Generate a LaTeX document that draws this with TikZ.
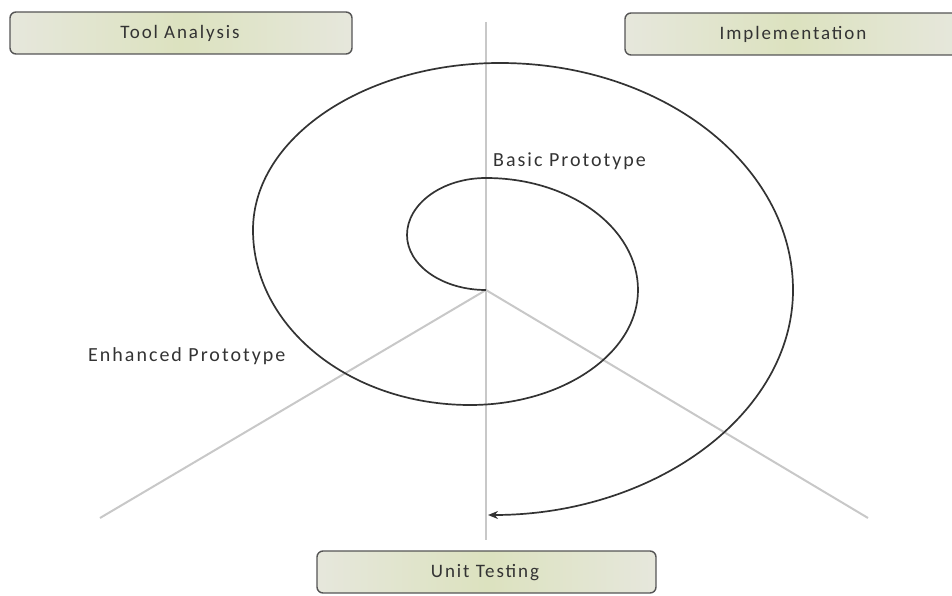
\documentclass[tikz,border=0pt]{standalone}
\usepackage{fontspec}
\setmainfont{Carlito}
\newfontfamily\lblfont[LetterSpace=10]{Carlito}
\usetikzlibrary{arrows.meta}
\definecolor{axisgrey}{HTML}{C8C8C8}
\definecolor{spiralgrey}{HTML}{333333}
\definecolor{boxedge}{HTML}{555555}
\definecolor{boxmid}{HTML}{DCE2BF}
\definecolor{boxside}{HTML}{E6E7DC}
\tikzset{
  phasebox/.style={draw=boxedge, line width=1.4pt, rounded corners=6pt,
    left color=boxside, right color=boxside, middle color=boxmid,
    inner sep=0pt, anchor=north west},
  axis/.style={draw=axisgrey, line width=2pt},
  spiral/.style={draw=spiralgrey, line width=1.7pt},
  boxtext/.style={font=\lblfont\fontsize{19}{21}\selectfont, text=black!80},
  plaintext/.style={font=\lblfont\fontsize{20}{22}\selectfont, text=black!80, anchor=west, inner sep=0pt}
}
\begin{document}
\begin{tikzpicture}[x=1pt,y=-1pt]
\useasboundingbox (0,0) rectangle (952,596);
\clip (0,0) rectangle (952,596);
% axes
\coordinate (c) at (486,290);
\coordinate (top) at (486,22);
\coordinate (bot) at (486,540);
\coordinate (ll) at (100,518);
\coordinate (lr) at (868,518);
\draw[axis] (top) -- (bot);
\draw[axis] (c) -- (ll);
\draw[axis] (c) -- (lr);
% boxes
\path[phasebox] (10,12) rectangle (352,54);
\node[boxtext] (ta) at (180,33) {Tool Analysis};
\path[phasebox] (625,13) rectangle (960,55);
\node[boxtext] (im) at (793,34) {Implementation};
\path[phasebox] (317,551) rectangle (656,593);
\node[boxtext] (ut) at (485,573) {Unit Testing};
% spiral
\coordinate (s0) at (486,290);
\coordinate (s9) at (488,515);
\draw[spiral, -{Stealth[length=10pt,width=8pt]}] (s0)
  .. controls (442,290) and (407,265) .. (407,235)
  .. controls (407,204) and (442,178) .. (486,178)
  .. controls (570,178) and (638,228) .. (638,290)
  .. controls (638,353) and (563,405) .. (470,405)
  .. controls (350,405) and (253,327) .. (253,230)
  .. controls (253,138) and (364,63) .. (500,63)
  .. controls (662,63) and (793,165) .. (793,290)
  .. controls (793,414) and (655,515) .. (s9);
% labels
\node[plaintext] (bp) at (493,161) {Basic Prototype};
\node[plaintext] (ep) at (88,356) {Enhanced Prototype};
\end{tikzpicture}
\end{document}
